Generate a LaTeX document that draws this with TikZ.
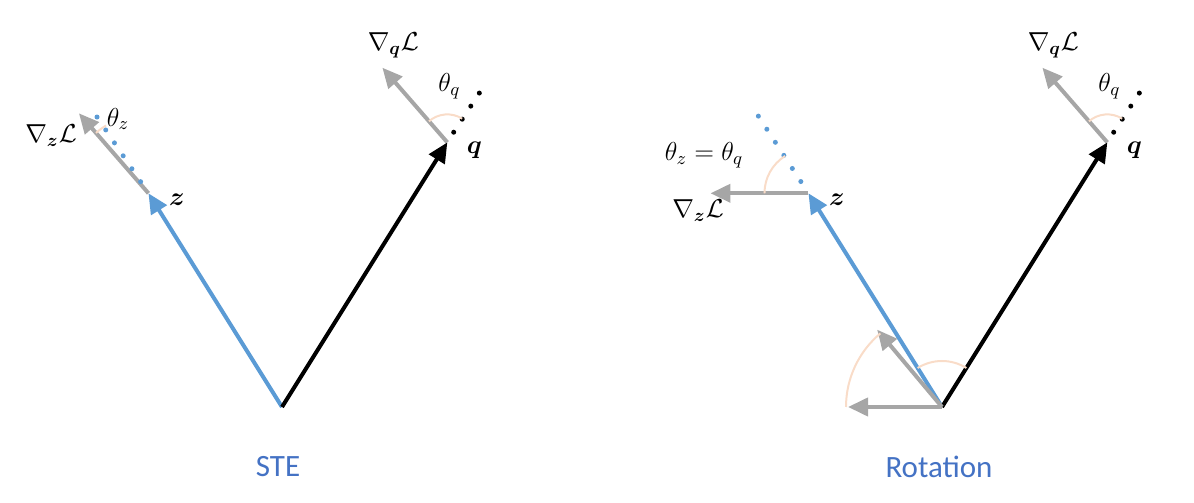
\RequirePackage{fix-cm}
\documentclass[tikz,border=0pt]{standalone}
\usepackage{amsmath}
\usepackage[no-math]{fontspec}
\newfontfamily\carlito{Carlito}
\usepackage{tikz}
\usetikzlibrary{arrows.meta,calc}

\definecolor{zblue}{HTML}{5B9BD5}
\definecolor{gradgray}{HTML}{A6A6A6}
\definecolor{anglepeach}{HTML}{F9DCC8}
\definecolor{capblue}{HTML}{4472C4}

\tikzset{
  vec/.style={line width=2pt, -{Triangle[length=10pt,width=9pt]}},
  dotline/.style={line width=2.5pt, line cap=round, dash pattern=on 0pt off 7.8pt},
  angarc/.style={anglepeach, line width=1pt},
  lbl/.style={font=\fontsize{13}{15}\selectfont, inner sep=0pt},
  caption/.style={font=\carlito\fontsize{15.5}{18}\selectfont, text=capblue},
}

\begin{document}
\begin{tikzpicture}[x=0.5pt, y=0.5pt]
  \useasboundingbox (0,0) rectangle (1194,503);

  % Origins and tips of z and q.
  \coordinate (O1) at (282,96);
  \coordinate (O2) at (942,96);
  \coordinate (z1) at ($(O1)+(122:252)$);
  \coordinate (z2) at ($(O2)+(122:252)$);
  \coordinate (q1) at ($(O1)+(58:312)$);
  \coordinate (q2) at ($(O2)+(58:312)$);

  % Gradients at z.
  \draw[vec, gradgray] (z1) -- ($(z1)+(131:106)$);
  \draw[vec, gradgray] (z2) -- ($(z2)+(180:98)$);
  \draw[dotline, zblue] ($(z1)+(124:14)$) -- ($(z1)+(124:92)$);
  \draw[dotline, zblue] ($(z2)+(123:14)$) -- ($(z2)+(123:92)$);
  \draw[angarc] ($(z1)+(122:80)$) arc (122:131:80);
  \draw[angarc] ($(z2)+(122:44)$) arc (122:180:44);

  % Gradient at q, same in both panels.
  \foreach \q in {q1,q2}{
    \draw[vec, gradgray] (\q) -- ($(\q)+(131:99)$);
    \draw[dotline, black] ($(\q)+(58:12)$) -- ($(\q)+(57:70)$);
    \draw[angarc] ($(\q)+(58:28)$) arc (58:131:28);
    \node[lbl] (gq-\q) at ($(\q)+(-54,97)$) {$\nabla_{\boldsymbol{q}}\mathcal{L}$};
    \node[lbl] (th-\q) at ($(\q)+(2,56)$) {$\theta_q$};
    \node[lbl] (lq-\q) at ($(\q)+(27,-8)$) {$\boldsymbol{q}$};
  }

  % Vectors z and q.
  \draw[vec, zblue] (O1) -- (z1);
  \draw[vec, black] (O1) -- (q1);
  \draw[vec, zblue] (O2) -- (z2);
  \draw[vec, black] (O2) -- (q2);

  % Rotation of the gradient at the origin.
  \draw[vec, gradgray] (O2) -- ($(O2)+(180:94)$);
  \draw[vec, gradgray] (O2) -- ($(O2)+(130:101)$);
  \draw[angarc] ($(O2)+(180:96)$) arc (180:130:96);
  \draw[angarc] ($(O2)+(58:46)$) arc (58:122:46);

  % Labels.
  \node[lbl] (gz1) at (51,367) {$\nabla_{\boldsymbol{z}}\mathcal{L}$};
  \node[lbl] (thz1) at (118,384) {$\theta_z$};
  \node[lbl] (lz1) at (177,303) {$\boldsymbol{z}$};
  \node[lbl] (gz2) at (698,292) {$\nabla_{\boldsymbol{z}}\mathcal{L}$};
  \node[lbl] (thz2) at (704,348) {$\theta_z=\theta_q$};
  \node[lbl] (lz2) at (837,303) {$\boldsymbol{z}$};
  \node[caption] (ste) at (278,36) {STE};
  \node[caption] (rot) at (939,36) {Rotation};
\end{tikzpicture}
\end{document}
